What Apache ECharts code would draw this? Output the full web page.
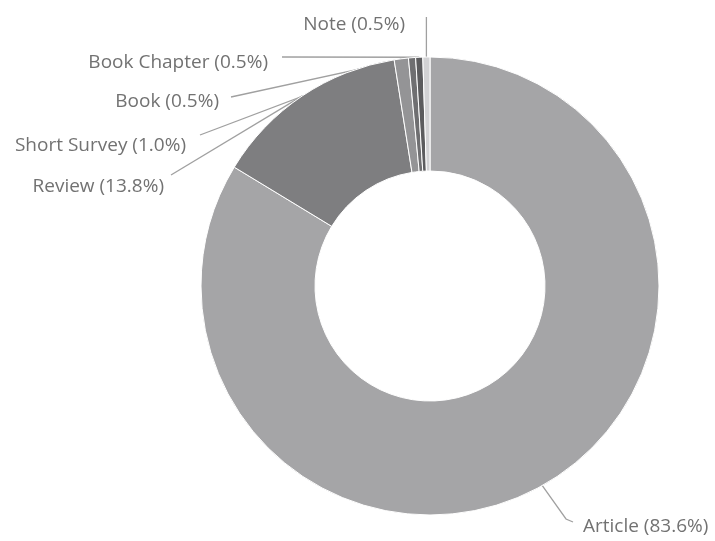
<!DOCTYPE html>
<html>
<head>
<meta charset="utf-8">
<title>Document types</title>
<script src="https://cdn.jsdelivr.net/npm/echarts@6/dist/echarts.min.js"></script>
<style>
  html, body { margin: 0; padding: 0; background: #ffffff; }
  #chart { width: 715px; height: 541px; }
</style>
</head>
<body>
<div id="chart"></div>
<script>
// Document types and their share of publications (%)
const categories = ['Article', 'Review', 'Short Survey', 'Book', 'Book Chapter', 'Note'];
const shares = [83.6, 13.8, 1.0, 0.5, 0.5, 0.5];
const sliceColors = ['#a5a5a7', '#7e7e80', '#949496', '#6f6f71', '#5c5c5e', '#d2d2d4'];

// Where each label sits (text anchor) and where its leader line ends
const labelPlacement = {
  'Article':      { x: 583, y: 527, align: 'left',  line: [[566, 519], [573, 522]] },
  'Review':       { x: 164, y: 187, align: 'right', line: [[171, 175]] },
  'Short Survey': { x: 186, y: 146, align: 'right', line: [[200, 135]] },
  'Book':         { x: 219, y: 102, align: 'right', line: [[231, 97]] },
  'Book Chapter': { x: 268, y: 63,  align: 'right', line: [[282, 57]] },
  'Note':         { x: 405, y: 25,  align: 'right', line: 'vertical', top: 17 }
};

const chart = echarts.init(document.getElementById('chart'), null, { renderer: 'canvas' });

const pieData = categories.map((name, i) => ({
  name: name,
  value: shares[i],
  itemStyle: { color: sliceColors[i] }
}));

chart.setOption({
  animation: false,
  backgroundColor: '#ffffff',
  series: [{
    type: 'pie',
    center: [430, 286],
    radius: [115, 229],
    startAngle: 90,
    clockwise: true,
    avoidLabelOverlap: false,
    minShowLabelAngle: 0,
    data: pieData,
    itemStyle: { borderColor: '#ffffff', borderWidth: 1 },
    label: {
      show: true,
      position: 'outside',
      formatter: p => p.name + ' (' + p.value.toFixed(1) + '%)',
      color: '#727272',
      fontFamily: 'Open Sans',
      fontSize: 19
    },
    labelLine: {
      show: true,
      length: 8,
      length2: 8,
      smooth: false,
      lineStyle: { color: '#a0a0a0', width: 1.3 }
    },
    emphasis: { disabled: true },
    labelLayout: function (params) {
      const name = categories[params.dataIndex];
      const place = labelPlacement[name];
      if (!place) return {};
      const start = params.labelLinePoints ? params.labelLinePoints[0] : null;
      let pts = null;
      if (start) {
        if (place.line === 'vertical') {
          pts = [[start[0], start[1]], [start[0], place.top]];
        } else {
          pts = [[start[0], start[1]]].concat(place.line);
        }
      }
      const out = {
        x: place.x,
        y: place.y,
        align: place.align,
        verticalAlign: 'middle',
        hideOverlap: false
      };
      if (pts) out.labelLinePoints = pts;
      return out;
    }
  }]
});
</script>
</body>
</html>
